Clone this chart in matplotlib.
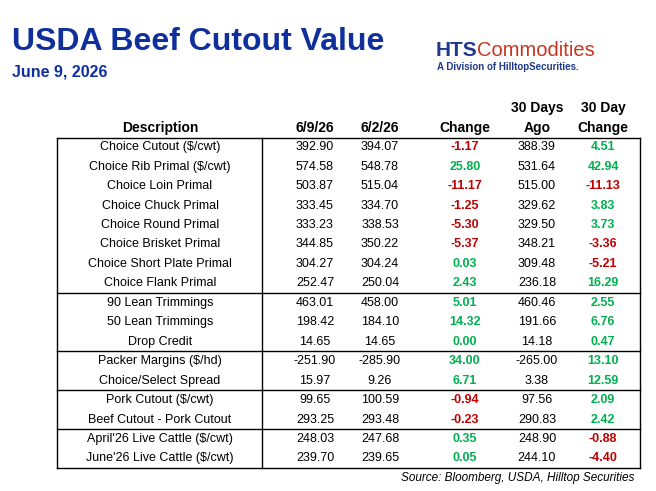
import matplotlib.pyplot as plt

plt.rcParams['font.family'] = ['Liberation Sans', 'DejaVu Sans']

descriptions = ["Choice Cutout ($/cwt)", "Choice Rib Primal ($/cwt)", "Choice Loin Primal",
                "Choice Chuck Primal", "Choice Round Primal", "Choice Brisket Primal",
                "Choice Short Plate Primal", "Choice Flank Primal", "90 Lean Trimmings",
                "50 Lean Trimmings", "Drop Credit", "Packer Margins ($/hd)",
                "Choice/Select Spread", "Pork Cutout ($/cwt)", "Beef Cutout - Pork Cutout",
                "April'26 Live Cattle ($/cwt)", "June'26 Live Cattle ($/cwt)"]
current = [392.90, 574.58, 503.87, 333.45, 333.23, 344.85, 304.27, 252.47, 463.01,
           198.42, 14.65, -251.90, 15.97, 99.65, 293.25, 248.03, 239.70]
week_ago = [394.07, 548.78, 515.04, 334.70, 338.53, 350.22, 304.24, 250.04, 458.00,
            184.10, 14.65, -285.90, 9.26, 100.59, 293.48, 247.68, 239.65]
change = [-1.17, 25.80, -11.17, -1.25, -5.30, -5.37, 0.03, 2.43, 5.01,
          14.32, 0.00, 34.00, 6.71, -0.94, -0.23, 0.35, 0.05]
month_ago = [388.39, 531.64, 515.00, 329.62, 329.50, 348.21, 309.48, 236.18, 460.46,
             191.66, 14.18, -265.00, 3.38, 97.56, 290.83, 248.90, 244.10]
month_change = [4.51, 42.94, -11.13, 3.83, 3.73, -3.36, -5.21, 16.29, 2.55,
                6.76, 0.47, 13.10, 12.59, 2.09, 2.42, -0.88, -4.40]
group_ends = [7, 10, 12, 14]

RED = "#C00000"
GREEN = "#00B050"

fig = plt.figure(figsize=(6.56, 4.91), dpi=100)
ax = fig.add_axes([0, 0, 1, 1])
ax.set_xlim(0, 656)
ax.set_ylim(491, 0)
ax.axis("off")

ax.text(12, 42, "USDA Beef Cutout Value", fontsize=23, fontweight="bold", color="#0F2F9C", va="center")
ax.text(12, 72, "June 9, 2026", fontsize=11.5, fontweight="bold", color="#0F2F9C", va="center")
ax.text(436, 50, "HTS", fontsize=15, fontweight="bold", color="#1F3A8A", va="center")
ax.text(477, 50, "Commodities", fontsize=14.5, color="#C8351E", va="center")
ax.text(437, 67, "A Division of HilltopSecurities.", fontsize=7, fontweight="bold", color="#1F3A8A", va="center")

cols = [160, 315, 380, 465, 537, 603]
hdr = dict(fontsize=10, fontweight="bold", ha="center", va="center")
ax.text(cols[0], 128, "Description", **hdr)
ax.text(cols[1], 128, "6/9/26", **hdr)
ax.text(cols[2], 128, "6/2/26", **hdr)
ax.text(cols[3], 128, "Change", **hdr)
ax.text(cols[4], 108, "30 Days", **hdr)
ax.text(cols[4], 128, "Ago", **hdr)
ax.text(cols[5], 108, "30 Day", **hdr)
ax.text(cols[5], 128, "Change", **hdr)

top, rh = 137.5, 19.45
left, mid, right = 57, 262, 640
for i, d in enumerate(descriptions):
    y = top + rh * (i + 0.5)
    ax.text(cols[0], y, d, fontsize=9, ha="center", va="center")
    ax.text(cols[1], y, f"{current[i]:.2f}", fontsize=9, ha="center", va="center")
    ax.text(cols[2], y, f"{week_ago[i]:.2f}", fontsize=9, ha="center", va="center")
    ax.text(cols[3], y, f"{change[i]:.2f}", fontsize=9, ha="center", va="center",
            fontweight="bold", color=RED if change[i] < 0 else GREEN)
    ax.text(cols[4], y, f"{month_ago[i]:.2f}", fontsize=9, ha="center", va="center")
    ax.text(cols[5], y, f"{month_change[i]:.2f}", fontsize=9, ha="center", va="center",
            fontweight="bold", color=RED if month_change[i] < 0 else GREEN)

bottom = top + rh * len(descriptions)
ax.plot([left, right], [top, top], color="black", lw=1)
ax.plot([left, right], [bottom, bottom], color="black", lw=1)
for g in group_ends:
    y = top + rh * (g + 1)
    ax.plot([left, right], [y, y], color="black", lw=1)
for x in (left, mid, right):
    ax.plot([x, x], [top, bottom], color="black", lw=1)

ax.text(634, 478, "Source: Bloomberg, USDA, Hilltop Securities", fontsize=8.5, style="italic",
        ha="right", va="center")

fig.savefig("out.png", dpi=100)
